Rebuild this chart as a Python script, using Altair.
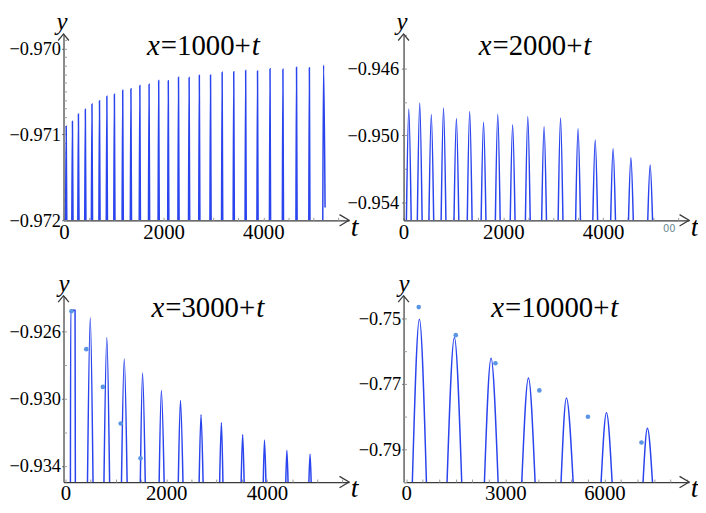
import altair as alt
import pandas as pd

FONT = "Times New Roman"
BLUE = "#2a44ee"
DOT = "#5b96e4"
AX = "#3a3a3a"
W, H = 288, 188

# ---------------- Panel 1 : x = 1000 + t ----------------
P1_T_START = [32, 157, 277, 416, 549, 700, 848, 999, 1166, 1331, 1510, 1695, 1888, 2081,
              2286, 2499, 2704, 2929, 3162, 3395, 3634, 3872, 4123, 4382, 4655, 4913, 5194]
P1_T_PEAK = [44, 169, 289, 428, 561, 712, 860, 1011, 1178, 1343, 1522, 1707, 1900, 2093,
             2298, 2511, 2716, 2941, 3174, 3407, 3646, 3884, 4135, 4394, 4667, 4925, 5210]
P1_T_END = [56, 181, 301, 440, 573, 724, 872, 1023, 1190, 1355, 1534, 1719, 1912, 2105,
            2310, 2523, 2728, 2953, 3186, 3419, 3658, 3896, 4147, 4406, 4679, 4937, 5240]
P1_Y_PEAK = [-0.970904, -0.970846, -0.970762, -0.970707, -0.970646, -0.970607, -0.970554,
             -0.970531, -0.970485, -0.970469, -0.970430, -0.970415, -0.970373, -0.970375,
             -0.970335, -0.970338, -0.970312, -0.970307, -0.970277, -0.970269, -0.970257,
             -0.970261, -0.970234, -0.970242, -0.970219, -0.970223, -0.970192]
P1_LAST_END_Y = -0.97185
P1_XDOM = [-10, 5721]
P1_YDOM = [-0.972, -0.96983]
P1_XLAB = [0, 2000, 4000]
P1_YLAB = [-0.972, -0.971, -0.970]

# ---------------- Panel 2 : x = 2000 + t ----------------
P2_T_START = [57, 276, 508, 753, 1011, 1277, 1555, 1840, 2138, 2442, 2768, 3098, 3449, 3793, 4151, 4508, 4894]
P2_T_PEAK = [105, 324, 556, 801, 1059, 1325, 1603, 1888, 2186, 2490, 2816, 3146, 3497, 3841, 4199, 4556, 4942]
P2_T_END = [153, 372, 604, 849, 1107, 1373, 1651, 1936, 2234, 2538, 2864, 3194, 3545, 3889, 4247, 4604, 4990]
P2_Y_PEAK = [-0.948420, -0.948064, -0.948753, -0.948361, -0.948990, -0.948575, -0.949210,
             -0.948735, -0.949371, -0.948872, -0.949489, -0.948955, -0.949608, -0.950279,
             -0.950796, -0.951330, -0.951781]
P2_XDOM = [0, 5722]
P2_YDOM = [-0.955089, -0.943925]
P2_XLAB = [0, 2000, 4000]
P2_YLAB = [-0.954, -0.950, -0.946]
P2_STRAY_T = [5325]
P2_STRAY_TEXT = ["00"]

# ---------------- Panel 3 : x = 3000 + t ----------------
P3_T_START = [98, 437, 764, 1112, 1486, 1860, 2240, 2654, 3061, 3488, 3927, 4374, 4833]
P3_T_PEAK = [104, 492, 821, 1167, 1530, 1904, 2283, 2691, 3096, 3518, 3951, 4396, 4856]
P3_T_END = [196, 547, 876, 1224, 1584, 1959, 2333, 2732, 3126, 3547, 3980, 4419, 4878]
P3_Y_PEAK = [-0.924744, -0.925192, -0.926371, -0.927651, -0.928476, -0.929520, -0.930110,
             -0.930953, -0.931425, -0.932132, -0.932468, -0.933075, -0.933311]
P3_PLATEAU = (0, 190)          # first arch is flat-topped up to t = 190
P3_DOT_T = [118, 413, 742, 1096, 1490]
P3_DOT_Y = [-0.924803, -0.927061, -0.929302, -0.931483, -0.933547]
P3_XDOM = [-39, 5630]
P3_YDOM = [-0.934962, -0.923877]
P3_XLAB = [0, 2000, 4000]
P3_YLAB = [-0.934, -0.930, -0.926]

# ---------------- Panel 4 : x = 10000 + t ----------------
P4_T_START = [186, 1236, 2367, 3498, 4686, 5898, 7167]
P4_T_PEAK = [399, 1458, 2568, 3699, 4848, 6060, 7299]
P4_T_END = [612, 1680, 2781, 3900, 5052, 6231, 7452]
P4_Y_PEAK = [-0.750164, -0.755723, -0.762102, -0.768177, -0.774253, -0.778809, -0.783578]
P4_DOT_T = [379, 1500, 2700, 4029, 5499, 7119]
P4_DOT_Y = [-0.746428, -0.755024, -0.763621, -0.771944, -0.780024, -0.787922]
P4_XDOM = [-80, 8560]
P4_YDOM = [-0.80003, -0.74292]
P4_XLAB = [0, 3000, 6000]
P4_YLAB = [-0.79, -0.77, -0.75]

XARROW = "M-1.6,-0.95L0,0L-1.6,0.95"
YARROW = "M-0.9,1.1L0,0L0.9,1.1"


def arch_frame(starts, peaks_t, peaks_y, ends, base, last_end_y=None, plateau=None):
    rows = []
    n = len(starts)
    for i in range(n):
        ey = last_end_y if (last_end_y is not None and i == n - 1) else base
        pts = [(starts[i], base), (peaks_t[i], peaks_y[i])]
        if plateau is not None and plateau[0] == i:
            pts.append((plateau[1], peaks_y[i]))
        pts.append((ends[i], ey))
        for k, (t, y) in enumerate(pts):
            rows.append({"arch": i, "k": k, "t": t, "y": y})
    return pd.DataFrame(rows)


def steps(lo, hi, step, nd):
    out = []
    v = lo
    while v <= hi + 1e-12:
        out.append(round(v, nd))
        v += step
    return out


def char_w(s, fs):
    wid = {"=": 0.564, "+": 0.564}
    return sum(wid.get(c, 0.5) for c in s) * fs


def panel(df, xdom, ydom, xlab, ylab, xminor, yminor, yfmt, mid, cx, by,
          ylabpad, ytx, dots=None, stray=None):
    xs = alt.Scale(domain=xdom, nice=False, zero=False)
    ys = alt.Scale(domain=ydom, nice=False, zero=False)

    xaxis = alt.Axis(values=xlab, format="d", ticks=False, tickSize=0, labelPadding=1,
                     labelFlush=False, labelOverlap=False, grid=False,
                     domainColor=AX, domainWidth=1.2,
                     labelFont=FONT, labelFontSize=21, labelColor="black",
                     title="t", titleFont=FONT, titleFontStyle="italic", titleFontSize=28,
                     titleFontWeight="normal", titleColor="black", titleX=W + 5, titleY=15,
                     titleAlign="center", titleBaseline="alphabetic")
    yaxis = alt.Axis(values=ylab, format=yfmt, ticks=True, tickSize=2, tickColor="#777",
                     labelPadding=ylabpad, labelFlush=False, labelOverlap=False, grid=False,
                     domainColor=AX, domainWidth=1.2,
                     labelFont=FONT, labelFontSize=18.5, labelColor="black",
                     title="y", titleFont=FONT, titleFontStyle="italic", titleFontSize=25,
                     titleFontWeight="normal", titleColor="black", titleAngle=0,
                     titleX=ytx, titleY=-4, titleAlign="center", titleBaseline="alphabetic")

    lines = alt.Chart(df).mark_line(interpolate="monotone", color=BLUE, strokeWidth=1.5,
                                    clip=True).encode(
        x=alt.X("t:Q", scale=xs, axis=xaxis),
        y=alt.Y("y:Q", scale=ys, axis=yaxis),
        detail="arch:N",
        order="k:O",
    )

    arrows_df = pd.DataFrame({"t": [xdom[1], xdom[0]], "y": [ydom[0], ydom[1]],
                              "shape": [XARROW, YARROW]})
    arrows = alt.Chart(arrows_df).mark_point(filled=False, stroke=AX, strokeWidth=1.3,
                                             size=144, opacity=1).encode(
        x=alt.X("t:Q", scale=xs,
                axis=alt.Axis(orient="top", offset=-H, values=xminor, labels=False,
                              domain=False, ticks=True, tickSize=3, tickColor="#999",
                              grid=False, title=None)),
        y=alt.Y("y:Q", scale=ys,
                axis=alt.Axis(orient="right", offset=-W, values=yminor, labels=False,
                              domain=False, ticks=True, tickSize=3, tickColor="#999",
                              grid=False, title=None)),
        shape=alt.Shape("shape:N", scale=None),
    )

    layers = [lines, arrows]

    if dots is not None:
        layers.append(
            alt.Chart(dots).mark_circle(size=22, color=DOT, opacity=1).encode(
                x=alt.X("t:Q", scale=xs, axis=None),
                y=alt.Y("y:Q", scale=ys, axis=None),
            )
        )
    if stray is not None:
        layers.append(
            alt.Chart(stray).mark_text(font="DejaVu Sans", fontSize=10, color="#6b8a90",
                                       dy=9, baseline="middle").encode(
                x=alt.X("t:Q", scale=xs, axis=None),
                y=alt.Y("y:Q", scale=ys, axis=None),
                text="label:N",
            )
        )

    one = pd.DataFrame({"v": [0]})
    fs = 29
    wm = char_w(mid, fs)
    layers.append(alt.Chart(one).mark_text(text=mid, font=FONT, fontSize=fs, align="center",
                                           baseline="alphabetic", color="black").encode(
        x=alt.value(cx), y=alt.value(by)))
    layers.append(alt.Chart(one).mark_text(text="x", font=FONT, fontStyle="italic", fontSize=fs,
                                           align="right", baseline="alphabetic",
                                           color="black").encode(
        x=alt.value(cx - wm / 2 - 1), y=alt.value(by)))
    layers.append(alt.Chart(one).mark_text(text="t", font=FONT, fontStyle="italic", fontSize=fs,
                                           align="left", baseline="alphabetic",
                                           color="black").encode(
        x=alt.value(cx + wm / 2 + 1), y=alt.value(by)))

    return alt.layer(*layers).resolve_axis(x="independent", y="independent").properties(
        width=W, height=H)


df1 = arch_frame(P1_T_START, P1_T_PEAK, P1_Y_PEAK, P1_T_END, P1_YDOM[0], last_end_y=P1_LAST_END_Y)
df2 = arch_frame(P2_T_START, P2_T_PEAK, P2_Y_PEAK, P2_T_END, P2_YDOM[0])
df3 = arch_frame(P3_T_START, P3_T_PEAK, P3_Y_PEAK, P3_T_END, P3_YDOM[0], plateau=P3_PLATEAU)
df4 = arch_frame(P4_T_START, P4_T_PEAK, P4_Y_PEAK, P4_T_END, P4_YDOM[0])

dots3 = pd.DataFrame({"t": P3_DOT_T, "y": P3_DOT_Y})
dots4 = pd.DataFrame({"t": P4_DOT_T, "y": P4_DOT_Y})
stray2 = pd.DataFrame({"t": P2_STRAY_T, "y": [P2_YDOM[0]], "label": P2_STRAY_TEXT})

p1 = panel(df1, P1_XDOM, P1_YDOM, P1_XLAB, P1_YLAB,
           steps(0, 5500, 500, 0), steps(-0.972, -0.9699, 0.0001, 4), ".3f",
           "=1000+", 143.5, 21, 1, -2)
p2 = panel(df2, P2_XDOM, P2_YDOM, P2_XLAB, P2_YLAB,
           steps(0, 5500, 500, 0), steps(-0.954, -0.944, 0.002, 3), ".3f",
           "=2000+", 135, 21, 3, -2, stray=stray2)
p3 = panel(df3, P3_XDOM, P3_YDOM, P3_XLAB, P3_YLAB,
           steps(0, 5500, 500, 0), steps(-0.934, -0.924, 0.002, 3), ".3f",
           "=3000+", 148, 21.7, 1, 0, dots=dots3)
p4 = panel(df4, P4_XDOM, P4_YDOM, P4_XLAB, P4_YLAB,
           steps(0, 8500, 500, 0), steps(-0.80, -0.75, 0.01, 2), ".2f",
           "=10000+", 155, 21.7, 1, 0, dots=dots4)

chart = alt.concat(p1, p2, p3, p4, columns=2, spacing={"row": 76, "column": 55},
                   bounds="flush").properties(
    padding={"left": 0, "top": 0, "right": 0, "bottom": 0},
    background="white",
).configure_view(stroke=None)

chart.save("out.html", embed_options={"renderer": "svg", "actions": False})
